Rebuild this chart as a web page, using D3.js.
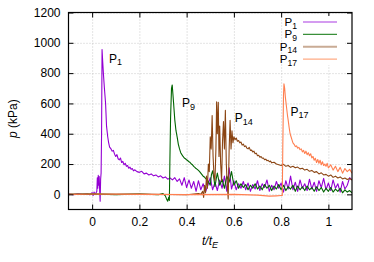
<!DOCTYPE html>
<html>
<head>
<meta charset="utf-8">
<script src="https://cdn.jsdelivr.net/npm/d3@7"></script>
<style>
  body { margin: 0; background: #fff; }
  svg { display: block; font-family: "Liberation Sans", Arial, sans-serif; }
  .grid line { stroke: #bbb; stroke-width: 0.8; stroke-dasharray: 1,2; }
  .grid path { display: none; }
  .axis path { display: none; }
  .axis line { stroke: #000; }
  .axis text { font-size: 12px; fill: #000; }
</style>
</head>
<body>
<div id="chart"></div>
<script>
//------------------------- DATA -------------------------//
var seriesNames = ["1", "9", "14", "17"];
var seriesColors = ["#9400d3", "#006400", "#8b4513", "#ff7f50"];
var legendColors = ["#d49cf0", "#3a8f3a", "#c9ab95", "#ffab85"];

var xTicks = [0, 0.2, 0.4, 0.6, 0.8, 1];
var xTickLabels = ["0", "0.2", "0.4", "0.6", "0.8", "1"];
var yTicks = [0, 200, 400, 600, 800, 1000, 1200];
var yTickLabels = ["0", "200", "400", "600", "800", "1000", "1200"];

// [t/tE, p (kPa)]
var p1 = [[-0.1,2],[-0.08,-2],[-0.06,3],[-0.04,0],[-0.02,4],[-0.01,-3],[0,12],[0.004,-8],[0.008,15],
  [0.012,2],[0.016,8],[0.02,20],[0.022,110],[0.024,40],[0.026,125],[0.028,60],[0.03,118],[0.032,20],
  [0.034,-45],[0.036,100],[0.038,140],[0.04,400],[0.042,955],[0.045,870],[0.048,790],[0.052,700],
  [0.057,600],[0.061,450],[0.066,380],[0.07,340],[0.074,312],[0.08,300],[0.085,285],[0.09,290],
  [0.095,265],[0.1,250],[0.105,262],[0.11,235],[0.115,228],[0.12,240],[0.125,210],[0.13,218],
  [0.135,195],[0.14,205],[0.145,185],[0.15,190],[0.155,172],[0.16,180],[0.165,165],[0.17,170],
  [0.175,155],[0.18,162],[0.19,150],[0.2,145],[0.21,152],[0.22,135],[0.23,140],[0.24,128],[0.25,135],
  [0.26,122],[0.27,128],[0.28,115],[0.29,122],[0.3,108],[0.31,115],[0.32,100],[0.33,108],[0.34,95],
  [0.35,110],[0.36,85],[0.37,102],[0.38,60],[0.39,110],[0.4,45],[0.41,95],[0.42,40],[0.43,85],
  [0.44,20],[0.45,90],[0.46,30],[0.47,70],[0.48,15],[0.49,60],[0.5,110],[0.51,30],[0.52,80],
  [0.53,25],[0.54,95],[0.55,40],[0.56,120],[0.57,20],[0.58,175],[0.59,35],[0.6,90],[0.61,30],
  [0.62,70],[0.63,40],[0.64,85],[0.65,30],[0.66,75],[0.67,20],[0.68,65],[0.69,35],[0.7,90],
  [0.71,25],[0.72,70],[0.73,45],[0.74,95],[0.75,20],[0.76,60],[0.77,30],[0.78,85],[0.79,40],
  [0.8,75],[0.81,15],[0.82,90],[0.83,35],[0.84,120],[0.85,30],[0.86,80],[0.87,20],[0.88,95],
  [0.89,40],[0.9,70],[0.91,25],[0.92,100],[0.93,35],[0.94,80],[0.95,20],[0.96,90],[0.97,45],
  [0.98,105],[0.99,30],[1,75],[1.01,25],[1.02,95],[1.03,40],[1.04,70],[1.05,15],[1.06,85],
  [1.07,35],[1.08,60],[1.09,110],[1.1,95]];

var p9 = [[-0.1,0],[0,3],[0.1,-2],[0.2,2],[0.28,-3],[0.3,5],[0.31,-10],[0.315,-30],[0.32,-45],
  [0.324,-20],[0.327,-40],[0.329,200],[0.332,500],[0.336,700],[0.339,722],[0.342,660],[0.345,598],
  [0.35,490],[0.355,420],[0.36,378],[0.365,330],[0.37,300],[0.375,275],[0.38,262],[0.385,250],
  [0.39,240],[0.395,235],[0.4,228],[0.405,222],[0.41,215],[0.415,210],[0.42,200],[0.425,195],
  [0.43,185],[0.435,178],[0.44,170],[0.445,165],[0.45,158],[0.455,150],[0.46,140],[0.465,130],
  [0.47,120],[0.475,115],[0.48,105],[0.485,100],[0.49,90],[0.5,60],[0.505,130],[0.51,155],
  [0.515,110],[0.52,50],[0.525,100],[0.53,140],[0.54,60],[0.55,100],[0.56,40],[0.57,120],[0.58,80],
  [0.59,150],[0.6,60],[0.61,90],[0.62,40],[0.63,70],[0.64,45],[0.65,65],[0.66,30],[0.67,60],
  [0.68,40],[0.69,70],[0.7,35],[0.71,55],[0.72,30],[0.73,65],[0.74,40],[0.75,60],[0.76,25],
  [0.77,55],[0.78,35],[0.79,65],[0.8,30],[0.81,60],[0.82,25],[0.83,50],[0.84,35],[0.85,60],
  [0.86,20],[0.87,55],[0.88,30],[0.89,50],[0.9,25],[0.91,55],[0.92,30],[0.93,45],[0.94,20],
  [0.95,50],[0.96,25],[0.97,45],[0.98,15],[0.99,40],[1,20],[1.01,45],[1.02,15],[1.03,35],
  [1.04,20],[1.05,40],[1.06,10],[1.07,30],[1.08,15],[1.09,25],[1.1,10]];

var p14 = [[-0.1,0],[0.2,2],[0.4,-3],[0.45,5],[0.46,0],[0.468,20],[0.472,-20],[0.476,60],[0.48,10],
  [0.484,120],[0.488,40],[0.492,200],[0.496,150],[0.5,380],[0.504,300],[0.508,520],[0.512,250],
  [0.516,120],[0.52,90],[0.524,300],[0.527,610],[0.53,400],[0.534,608],[0.537,250],[0.54,450],
  [0.544,200],[0.548,90],[0.552,350],[0.556,480],[0.56,300],[0.564,554],[0.568,200],[0.572,60],
  [0.576,-30],[0.58,300],[0.584,488],[0.588,300],[0.592,420],[0.596,340],[0.6,380],[0.605,360],
  [0.61,372],[0.615,350],[0.62,355],[0.625,340],[0.63,345],[0.635,325],[0.64,332],[0.645,315],
  [0.65,320],[0.655,305],[0.66,300],[0.665,310],[0.67,290],[0.675,292],[0.68,280],[0.685,285],
  [0.69,268],[0.695,272],[0.7,255],[0.705,258],[0.71,245],[0.715,250],[0.72,238],[0.725,240],
  [0.73,228],[0.735,232],[0.74,222],[0.745,225],[0.75,215],[0.755,220],[0.76,208],[0.77,212],
  [0.78,200],[0.79,195],[0.8,190],[0.81,198],[0.82,185],[0.83,190],[0.84,178],[0.85,185],
  [0.86,175],[0.87,180],[0.88,168],[0.89,172],[0.9,160],[0.91,165],[0.92,152],[0.93,158],
  [0.94,145],[0.95,150],[0.96,135],[0.97,142],[0.98,128],[0.99,132],[1,120],[1.01,128],[1.02,112],
  [1.03,120],[1.04,108],[1.05,115],[1.06,102],[1.07,108],[1.08,98],[1.09,104],[1.1,95]];

var p17 = [[-0.1,0],[0,2],[0.2,0],[0.4,-2],[0.6,0],[0.7,-5],[0.75,-12],[0.78,-10],[0.8,-8],
  [0.805,-8],[0.807,300],[0.81,650],[0.812,730],[0.815,700],[0.818,640],[0.821,600],[0.824,560],
  [0.827,520],[0.83,488],[0.834,440],[0.838,400],[0.842,380],[0.846,360],[0.85,340],[0.855,330],
  [0.86,315],[0.865,320],[0.87,305],[0.875,310],[0.88,295],[0.885,300],[0.89,280],[0.895,290],
  [0.9,270],[0.905,285],[0.91,262],[0.915,275],[0.92,255],[0.925,268],[0.93,240],[0.935,250],
  [0.94,225],[0.945,238],[0.95,210],[0.955,230],[0.96,205],[0.965,225],[0.97,195],[0.975,215],
  [0.98,190],[0.985,200],[0.99,185],[0.995,205],[1,175],[1.01,195],[1.02,160],[1.03,185],
  [1.04,150],[1.05,178],[1.06,140],[1.07,170],[1.08,150],[1.09,165],[1.1,140]];

var allSeries = [p1, p9, p14, p17];

//------------------------- SETUP -------------------------//
var W = 374, H = 262;
var margin = {left: 68.5, top: 12.5, right: 22, bottom: 52.5};
var width = W - margin.left - margin.right;
var height = H - margin.top - margin.bottom;

var svg = d3.select("#chart").append("svg")
    .attr("width", W)
    .attr("height", H);

var g = svg.append("g")
    .attr("transform", "translate(" + margin.left + "," + margin.top + ")");

var x = d3.scaleLinear().domain([-0.1, 1.1]).range([0, width]);
var y = d3.scaleLinear().domain([-100, 1200]).range([height, 0]);

//------------------------- GRID -------------------------//
g.append("g").attr("class", "grid")
    .attr("transform", "translate(0," + height + ")")
    .call(d3.axisBottom(x).tickValues(xTicks).tickSize(-height).tickFormat(""));
g.append("g").attr("class", "grid")
    .call(d3.axisLeft(y).tickValues(yTicks).tickSize(-width).tickFormat(""));

//------------------------- LINES -------------------------//
g.append("clipPath").attr("id", "clip")
  .append("rect").attr("width", width).attr("height", height);

var line = d3.line()
    .x(function(d) { return x(d[0]); })
    .y(function(d) { return y(d[1]); });

g.append("g").attr("clip-path", "url(#clip)")
  .selectAll("path")
  .data(allSeries)
  .enter()
  .append("path")
    .attr("d", line)
    .attr("fill", "none")
    .attr("stroke", function(d, i) { return seriesColors[i]; })
    .attr("stroke-width", 1.1)
    .attr("stroke-linejoin", "round");

//------------------------- AXES -------------------------//
g.append("g").attr("class", "axis")
    .attr("transform", "translate(0," + height + ")")
    .call(d3.axisBottom(x).tickValues(xTicks).tickSize(-5).tickPadding(8)
      .tickFormat(function(d, i) { return xTickLabels[i]; }));
g.append("g").attr("class", "axis")
    .call(d3.axisTop(x).tickValues(xTicks).tickSize(-5).tickFormat(""));
g.append("g").attr("class", "axis")
    .call(d3.axisLeft(y).tickValues(yTicks).tickSize(-5).tickPadding(8)
      .tickFormat(function(d, i) { return yTickLabels[i]; }));
g.append("g").attr("class", "axis")
    .attr("transform", "translate(" + width + ",0)")
    .call(d3.axisRight(y).tickValues(yTicks).tickSize(-5).tickFormat(""));

// frame
g.append("rect")
    .attr("width", width)
    .attr("height", height)
    .attr("fill", "none")
    .attr("stroke", "#000")
    .attr("stroke-width", 1.2);

// axis labels
var xl = svg.append("text")
    .attr("x", 210)
    .attr("y", 245)
    .attr("text-anchor", "middle")
    .style("font-size", "12px");
xl.append("tspan").style("font-style", "italic").text("t/t");
xl.append("tspan").style("font-style", "italic").style("font-size", "9px").attr("dy", 3).text("E");

var yl = svg.append("text")
    .attr("transform", "translate(17," + (margin.top + y(500)) + ") rotate(-90)")
    .attr("text-anchor", "middle")
    .style("font-size", "12px");
yl.append("tspan").style("font-style", "italic").text("p");
yl.append("tspan").text(" (kPa)");

//------------------------- LABELS -------------------------//
function subLabel(parent, px, py, num, anchor, size) {
  size = size || 12;
  var t = parent.append("text")
      .attr("x", px)
      .attr("y", py)
      .attr("text-anchor", anchor || "start")
      .style("font-size", size + "px");
  t.append("tspan").text("P");
  t.append("tspan").style("font-size", (size * 0.75) + "px").attr("dy", 2.5).text(num);
  return t;
}

// curve labels placed next to the peaks (baseline position in data units)
var labelPos = [[0.071, 870], [0.38, 575], [0.604, 475], [0.84, 520]];
labelPos.forEach(function(p, i) {
  subLabel(g, x(p[0]), y(p[1]), seriesNames[i]);
});

//------------------------- LEGEND -------------------------//
var lg = svg.append("g");
lg.append("rect")
    .attr("x", 283).attr("y", 16)
    .attr("width", 62).attr("height", 49)
    .attr("fill", "#fff");

seriesNames.forEach(function(n, i) {
  var ly = 22 + i * 12.4;
  subLabel(lg, 297, ly + 4, n, "end", 11.5);
  lg.append("line")
      .attr("x1", 303).attr("x2", 337)
      .attr("y1", ly).attr("y2", ly)
      .attr("stroke", legendColors[i])
      .attr("stroke-width", (i % 2 === 0) ? 2 : 1.2);
});
</script>
</body>
</html>
